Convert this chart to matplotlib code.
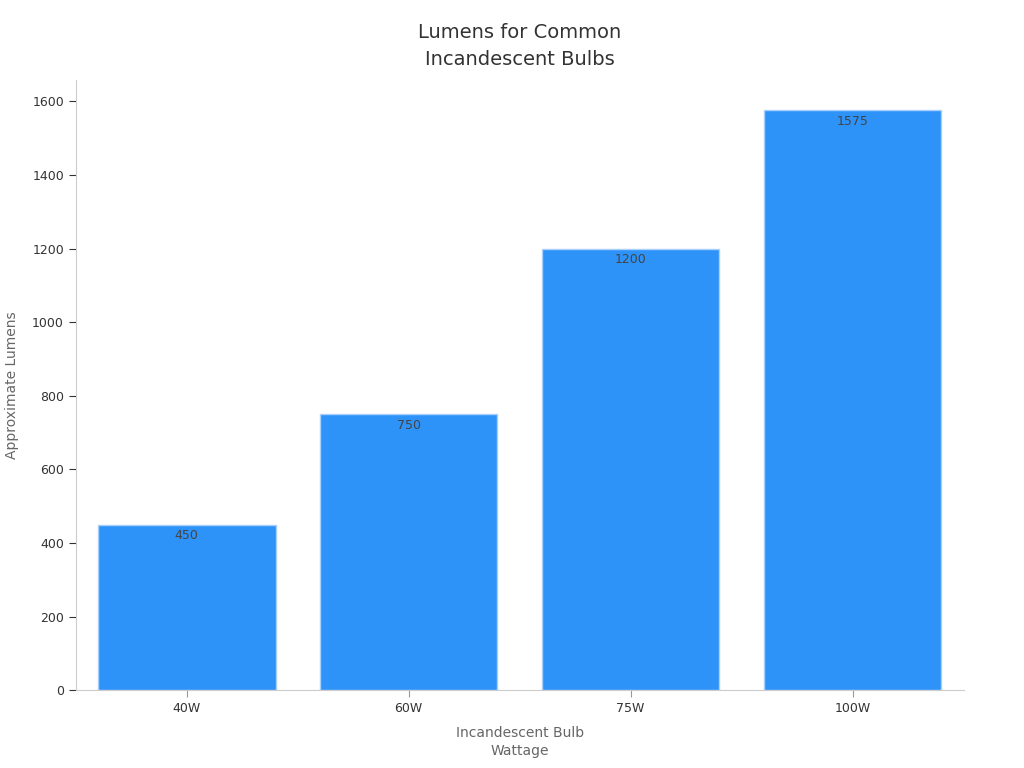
import matplotlib.pyplot as plt

wattage = ["40W", "60W", "75W", "100W"]
lumens = [450, 750, 1200, 1575]

fig, ax = plt.subplots(figsize=(10.24, 7.68), dpi=100)
fig.subplots_adjust(left=0.074, right=0.941, top=0.896, bottom=0.101)

bars = ax.bar(wattage, lumens, width=0.8, color="#2E93F8", edgecolor="#A9D0FB", linewidth=1)
for b, v in zip(bars, lumens):
    ax.text(b.get_x() + b.get_width() / 2, v - 12, str(v), ha="center", va="top",
            fontsize=9, color="#444444")

ax.set_xlim(-0.5, 3.5)
ax.set_ylim(0, 1658)
ax.set_yticks(range(0, 1601, 200))

for s in ["top", "right"]:
    ax.spines[s].set_visible(False)
ax.spines["left"].set_color("#cccccc")
ax.spines["bottom"].set_color("#cccccc")
ax.tick_params(axis="y", colors="#333333", labelsize=9, length=5)
ax.tick_params(axis="x", colors="#999999", labelcolor="#333333", labelsize=9, length=5)

ax.set_xlabel("Incandescent Bulb\nWattage", fontsize=10, color="#666666", labelpad=8,
              linespacing=1.35)
ax.set_ylabel("Approximate Lumens", fontsize=10, color="#666666")
ax.set_title("Lumens for Common\nIncandescent Bulbs", fontsize=14, color="#333333",
             pad=11, linespacing=1.5)
ax.yaxis.set_label_coords(-0.064, 0.5)

fig.savefig("out.png")
